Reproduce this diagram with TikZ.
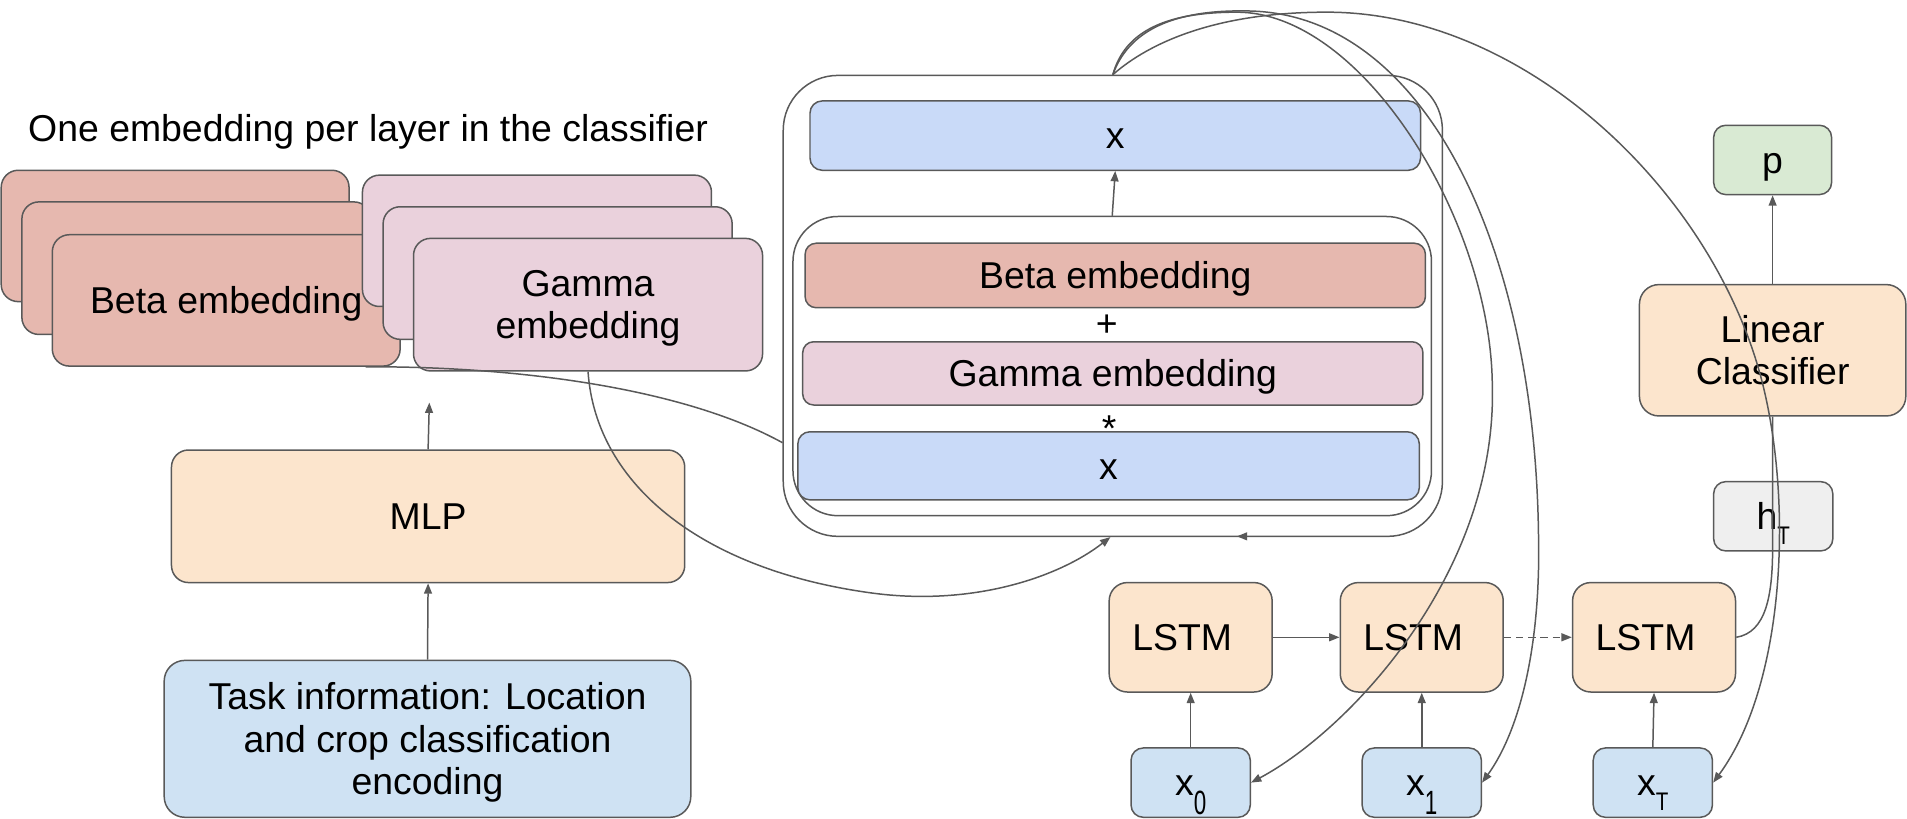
\documentclass[tikz,border=0pt]{standalone}
\usepackage{fontspec}
\setmainfont{Liberation Sans}
\usepackage{graphicx}
\usetikzlibrary{arrows.meta,calc}
\definecolor{bord}{HTML}{595959}
\definecolor{cbeta}{HTML}{E6B8AF}
\definecolor{cgam}{HTML}{EAD1DC}
\definecolor{cx}{HTML}{C9DAF8}
\definecolor{corange}{HTML}{FCE5CD}
\definecolor{ctask}{HTML}{CFE2F3}
\definecolor{cgrey}{HTML}{EFEFEF}
\definecolor{cgreen}{HTML}{D9EAD3}
\newcommand\subT{\raisebox{-0.39em}{\scalebox{0.55}[0.68]{T}}}
\newcommand\subD[1]{\raisebox{-0.5em}{\scalebox{0.6}[0.9]{#1}}}
\begin{document}
\begin{tikzpicture}[x=0.02cm,y=-0.02cm,
  font=\fontsize{17.5}{19.9}\selectfont,
  box/.style={draw=bord, line width=0.7pt, inner sep=0pt, align=center},
  wh/.style 2 args={minimum width=#1*0.02cm, minimum height=#2*0.02cm},
  one/.style={text height=12.5pt, text depth=0pt},
  conn/.style={draw=bord, line width=0.7pt},
  arr/.style={conn, -{Triangle[length=0.17cm,width=0.13cm]}}]
\useasboundingbox (0,0) rectangle (1568,673);

\node[anchor=base west] (title) at (17,116) {One embedding per layer in the classifier};

% Beta stack
\node[box, fill=cbeta, wh={286}{108}, rounded corners=0.28cm] (betaA) at (144,194) {};
\node[box, fill=cbeta, wh={287}{109}, rounded corners=0.28cm] (betaB) at (161.5,220.5) {};
\node[box, fill=cbeta, wh={286}{108}, rounded corners=0.28cm, one] (betaC) at (186,247) {Beta embedding};
% Gamma stack
\node[box, fill=cgam, wh={287}{108}, rounded corners=0.28cm] (gamA) at (441.5,198) {};
\node[box, fill=cgam, wh={287}{109}, rounded corners=0.28cm] (gamB) at (458.5,224.5) {};
\node[box, fill=cgam, wh={287}{109}, rounded corners=0.28cm] (gamC) at (483.5,250.5) {Gamma\\\smash{embedding}};

% MLP and task
\node[box, fill=corange, wh={422}{109}, rounded corners=0.28cm, one] (mlp) at (352,424.5) {MLP};
\node[box, fill=ctask, wh={433}{129}, rounded corners=0.34cm] (task) at (351.5,607.5) {Task information: Location\\and crop classification\\\smash{encoding}};
\coordinate (mlpout) at (353,331);
\draw[arr] (mlp.north) -- (mlpout);
\draw[arr] (task.north) -- (mlp.south);

% big block
\node[box, fill=white, wh={542}{379}, rounded corners=0.9cm] (outer) at (915,251.5) {};
\node[box, wh={525}{246}, rounded corners=0.74cm] (inner) at (914.5,301) {};
\node[box, fill=cx, wh={502}{57}, rounded corners=0.2cm, one] (topx) at (917,111.5) {x};
\node[box, fill=cbeta, wh={510}{53}, rounded corners=0.18cm, one] (betabar) at (917,226.5) {Beta embedding};
\node[anchor=base] (plus) at (910,277) {+};
\node[box, fill=cgam, wh={510}{52}, rounded corners=0.18cm, one] (gambar) at (915,307) {Gamma embedding};
\node[anchor=base] (star) at (912,363) {*};
\node[box, fill=cx, wh={511}{56}, rounded corners=0.2cm, one] (xbar) at (911.5,383) {x};
\draw[arr] (inner.north) -- (topx.south);

% LSTM chain
\node[box, fill=corange, wh={134}{90}, rounded corners=0.3cm, one] (lstm1) at (979,524) {LSTM\hspace{0.28cm}};
\node[box, fill=corange, wh={134}{90}, rounded corners=0.3cm, one] (lstm2) at (1169,524) {LSTM\hspace{0.28cm}};
\node[box, fill=corange, wh={134}{90}, rounded corners=0.3cm, one] (lstm3) at (1360,524) {LSTM\hspace{0.28cm}};
\node[box, fill=ctask, wh={98}{57}, rounded corners=0.2cm, one] (x0) at (979,643.5) {x\subD{0}};
\node[box, fill=ctask, wh={98}{57}, rounded corners=0.2cm, one] (x1) at (1169,643.5) {x\subD{1}};
\node[box, fill=ctask, wh={98}{57}, rounded corners=0.2cm, one] (xT) at (1359,643.5) {x\subT};
\draw[arr] (x0.north) -- (lstm1.south);
\draw[arr] (x1.north) -- (lstm2.south);
\draw[arr] (xT.north) -- (lstm3.south);
\draw[arr] (lstm1.east) -- (lstm2.west);
\draw[arr, dash pattern=on 0.12cm off 0.08cm] (lstm2.east) -- (lstm3.west);

% classifier
\node[box, fill=cgrey, wh={98}{57}, rounded corners=0.2cm, one] (hT) at (1458,424.5) {h\subT};
\node[box, fill=corange, wh={219}{108}, rounded corners=0.32cm] (lc) at (1457.5,288) {Linear\\Classifier};
\node[box, fill=cgreen, wh={97}{57}, rounded corners=0.2cm, one] (p) at (1457.5,131.5) {p};
\draw[arr] (lc.north) -- (p.south);
\draw[conn] (lstm3.east) .. controls (1452,520) and (1457.5,490) .. (1457.5,450) -- (lc.south);

% curves
\draw[conn] ($(betaC.south east)+(-29,0)$) .. controls (420,301) and (560,318) .. ($(outer.west)+(0,112.5)$);
\draw[arr] (gamC.south) .. controls (490,400) and (580,470) .. (720,488) .. controls (800,498) and (870,475) .. ($(outer.south)+(-2,0)$);
\coordinate (stubA) at (1024,441);
\coordinate (stubB) at (1017,441);
\draw[arr] (stubA) -- (stubB);
\draw[arr] (outer.north) .. controls (925,25) and (960,10) .. (1017,10) .. controls (1120,10) and (1225,180) .. (1227,315) .. controls (1232,470) and (1110,600) .. (x0.east);
\draw[arr] (outer.north) .. controls (928,25) and (965,8) .. (1025,9) .. controls (1170,10) and (1262,200) .. (1265,440) .. controls (1267,530) and (1250,600) .. (x1.east);
\draw[arr] (outer.north) .. controls (945,35) and (1000,10) .. (1091,10) .. controls (1250,10) and (1400,150) .. (1445,300) .. controls (1475,400) and (1470,560) .. (xT.east);
\end{tikzpicture}
\end{document}
